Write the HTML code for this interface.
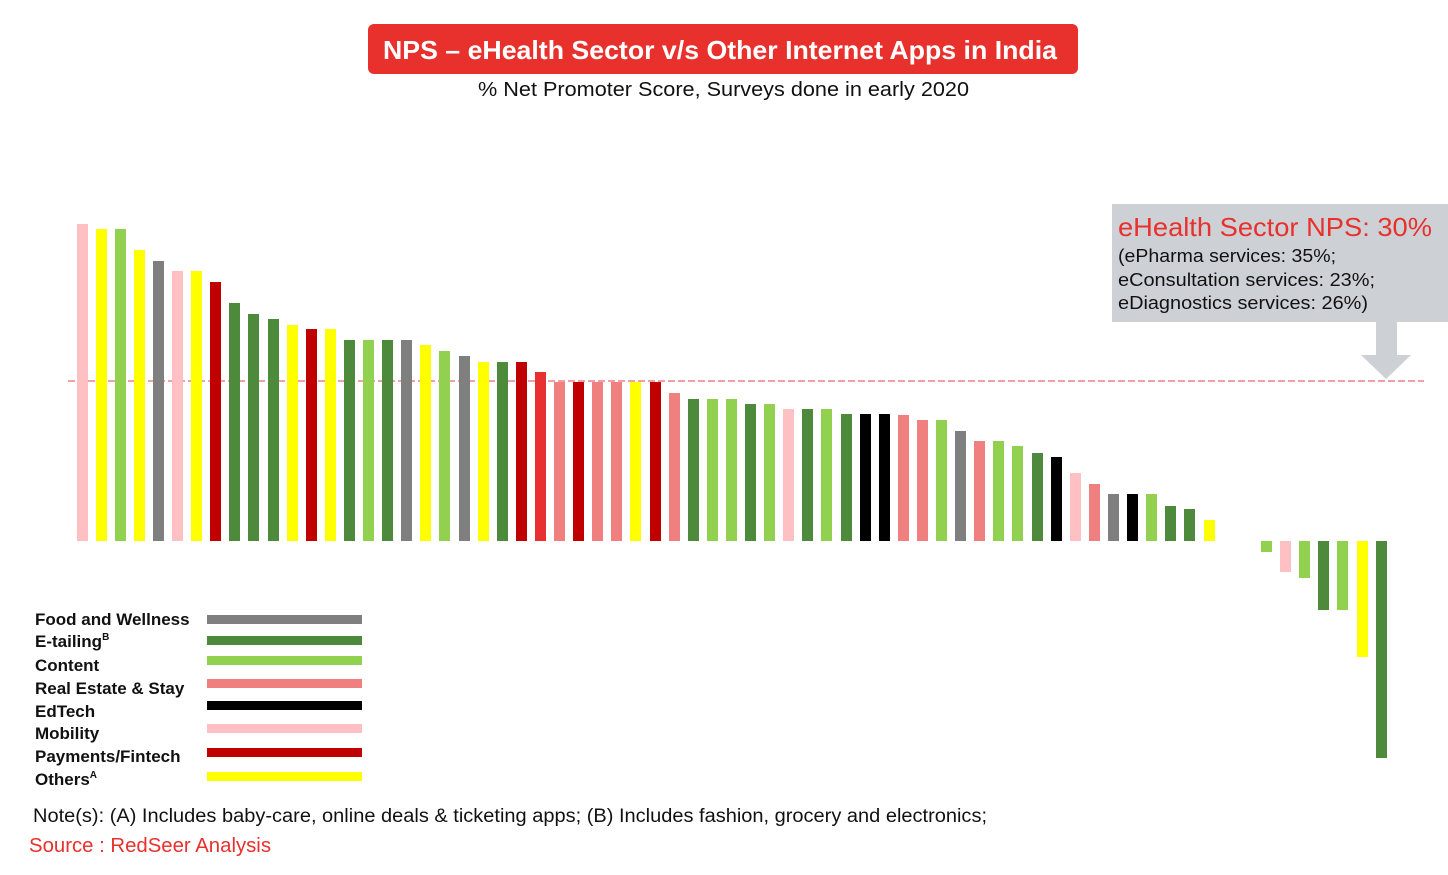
<!DOCTYPE html>
<html><head><meta charset="utf-8"><style>
html,body{margin:0;padding:0;background:#fff;}
svg{display:block;font-family:"Liberation Sans",Arial,sans-serif;}
</style></head><body>
<svg width="1448" height="875" viewBox="0 0 1448 875" xmlns="http://www.w3.org/2000/svg">
<rect x="368" y="24" width="710" height="50" rx="6" fill="#e8302c"/>
<text x="383" y="59" textLength="674" lengthAdjust="spacingAndGlyphs" font-size="26" font-weight="bold" fill="#fff">NPS – eHealth Sector v/s Other Internet Apps in India</text>
<text x="478" y="96" textLength="491" lengthAdjust="spacingAndGlyphs" font-size="20" fill="#111">% Net Promoter Score, Surveys done in early 2020</text>

<rect x="1112" y="204" width="336" height="118" fill="#cdd1d6"/>
<text x="1118" y="236" textLength="314" lengthAdjust="spacingAndGlyphs" font-size="26" fill="#e8302c">eHealth Sector NPS: 30%</text>
<text x="1118" y="262" textLength="218" lengthAdjust="spacingAndGlyphs" font-size="18" fill="#111">(ePharma services: 35%;</text>
<text x="1118" y="286" textLength="257" lengthAdjust="spacingAndGlyphs" font-size="18" fill="#111">eConsultation services: 23%;</text>
<text x="1118" y="309" textLength="250" lengthAdjust="spacingAndGlyphs" font-size="18" fill="#111">eDiagnostics services: 26%)</text>
<rect x="1376" y="322" width="21" height="34" fill="#cdd1d6"/>
<polygon points="1361,355 1411,355 1386,379" fill="#cdd1d6"/>

<line x1="68" y1="381" x2="1424" y2="381" stroke="#f2a0a6" stroke-width="2" stroke-dasharray="7,3"/>

<g font-size="17" font-weight="bold" fill="#111">
<text x="35" y="625">Food and Wellness</text>
<text x="35" y="647">E-tailing<tspan font-size="10" dy="-7">B</tspan></text>
<text x="35" y="671">Content</text>
<text x="35" y="694">Real Estate &amp; Stay</text>
<text x="35" y="717">EdTech</text>
<text x="35" y="739">Mobility</text>
<text x="35" y="762">Payments/Fintech</text>
<text x="35" y="785">Others<tspan font-size="10" dy="-7">A</tspan></text>
</g>
<rect x="207" y="615" width="155" height="9" fill="#7f7f7f"/>
<rect x="207" y="636" width="155" height="9" fill="#4e8a3c"/>
<rect x="207" y="656" width="155" height="9" fill="#92d050"/>
<rect x="207" y="679" width="155" height="9" fill="#f08080"/>
<rect x="207" y="701" width="155" height="9" fill="#000"/>
<rect x="207" y="724" width="155" height="9" fill="#ffc0c4"/>
<rect x="207" y="748" width="155" height="9" fill="#c00000"/>
<rect x="207" y="772" width="155" height="9" fill="#ffff00"/>

<text x="33" y="822" textLength="954" lengthAdjust="spacingAndGlyphs" font-size="19" fill="#111">Note(s): (A) Includes baby-care, online deals &amp; ticketing apps; (B) Includes fashion, grocery and electronics;</text>
<text x="29" y="852" textLength="242" lengthAdjust="spacingAndGlyphs" font-size="20" fill="#e8302c">Source : RedSeer Analysis</text>

<g>
<rect x="77" y="224" width="11" height="317" fill="#ffc0c4"/>
<rect x="96" y="229" width="11" height="312" fill="#ffff00"/>
<rect x="115" y="229" width="11" height="312" fill="#92d050"/>
<rect x="134" y="250" width="11" height="291" fill="#ffff00"/>
<rect x="153" y="261" width="11" height="280" fill="#7f7f7f"/>
<rect x="172" y="271" width="11" height="270" fill="#ffc0c4"/>
<rect x="191" y="271" width="11" height="270" fill="#ffff00"/>
<rect x="210" y="282" width="11" height="259" fill="#c00000"/>
<rect x="229" y="303" width="11" height="238" fill="#4e8a3c"/>
<rect x="248" y="314" width="11" height="227" fill="#4e8a3c"/>
<rect x="268" y="319" width="11" height="222" fill="#4e8a3c"/>
<rect x="287" y="325" width="11" height="216" fill="#ffff00"/>
<rect x="306" y="329" width="11" height="212" fill="#c00000"/>
<rect x="325" y="329" width="11" height="212" fill="#ffff00"/>
<rect x="344" y="340" width="11" height="201" fill="#4e8a3c"/>
<rect x="363" y="340" width="11" height="201" fill="#92d050"/>
<rect x="382" y="340" width="11" height="201" fill="#4e8a3c"/>
<rect x="401" y="340" width="11" height="201" fill="#7f7f7f"/>
<rect x="420" y="345" width="11" height="196" fill="#ffff00"/>
<rect x="439" y="351" width="11" height="190" fill="#92d050"/>
<rect x="459" y="356" width="11" height="185" fill="#7f7f7f"/>
<rect x="478" y="362" width="11" height="179" fill="#ffff00"/>
<rect x="497" y="362" width="11" height="179" fill="#4e8a3c"/>
<rect x="516" y="362" width="11" height="179" fill="#c00000"/>
<rect x="535" y="372" width="11" height="169" fill="#e83030"/>
<rect x="554" y="382" width="11" height="159" fill="#f08080"/>
<rect x="573" y="382" width="11" height="159" fill="#c00000"/>
<rect x="592" y="382" width="11" height="159" fill="#f08080"/>
<rect x="611" y="382" width="11" height="159" fill="#f08080"/>
<rect x="630" y="382" width="11" height="159" fill="#ffff00"/>
<rect x="650" y="382" width="11" height="159" fill="#c00000"/>
<rect x="669" y="393" width="11" height="148" fill="#f08080"/>
<rect x="688" y="399" width="11" height="142" fill="#4e8a3c"/>
<rect x="707" y="399" width="11" height="142" fill="#92d050"/>
<rect x="726" y="399" width="11" height="142" fill="#92d050"/>
<rect x="745" y="404" width="11" height="137" fill="#4e8a3c"/>
<rect x="764" y="404" width="11" height="137" fill="#92d050"/>
<rect x="783" y="409" width="11" height="132" fill="#ffc0c4"/>
<rect x="802" y="409" width="11" height="132" fill="#4e8a3c"/>
<rect x="821" y="409" width="11" height="132" fill="#92d050"/>
<rect x="841" y="414" width="11" height="127" fill="#4e8a3c"/>
<rect x="860" y="414" width="11" height="127" fill="#000"/>
<rect x="879" y="414" width="11" height="127" fill="#000"/>
<rect x="898" y="415" width="11" height="126" fill="#f08080"/>
<rect x="917" y="420" width="11" height="121" fill="#f08080"/>
<rect x="936" y="420" width="11" height="121" fill="#92d050"/>
<rect x="955" y="431" width="11" height="110" fill="#7f7f7f"/>
<rect x="974" y="441" width="11" height="100" fill="#f08080"/>
<rect x="993" y="441" width="11" height="100" fill="#92d050"/>
<rect x="1012" y="446" width="11" height="95" fill="#92d050"/>
<rect x="1032" y="453" width="11" height="88" fill="#4e8a3c"/>
<rect x="1051" y="457" width="11" height="84" fill="#000"/>
<rect x="1070" y="473" width="11" height="68" fill="#ffc0c4"/>
<rect x="1089" y="484" width="11" height="57" fill="#f08080"/>
<rect x="1108" y="494" width="11" height="47" fill="#7f7f7f"/>
<rect x="1127" y="494" width="11" height="47" fill="#000"/>
<rect x="1146" y="494" width="11" height="47" fill="#92d050"/>
<rect x="1165" y="506" width="11" height="35" fill="#4e8a3c"/>
<rect x="1184" y="509" width="11" height="32" fill="#4e8a3c"/>
<rect x="1204" y="520" width="11" height="21" fill="#ffff00"/>

<rect x="1261" y="541" width="11" height="11" fill="#92d050"/>
<rect x="1280" y="541" width="11" height="31" fill="#ffc0c4"/>
<rect x="1299" y="541" width="11" height="37" fill="#92d050"/>
<rect x="1318" y="541" width="11" height="69" fill="#4e8a3c"/>
<rect x="1337" y="541" width="11" height="69" fill="#92d050"/>
<rect x="1357" y="541" width="11" height="116" fill="#ffff00"/>
<rect x="1376" y="541" width="11" height="217" fill="#4e8a3c"/>
</g>
</svg>
</body></html>
